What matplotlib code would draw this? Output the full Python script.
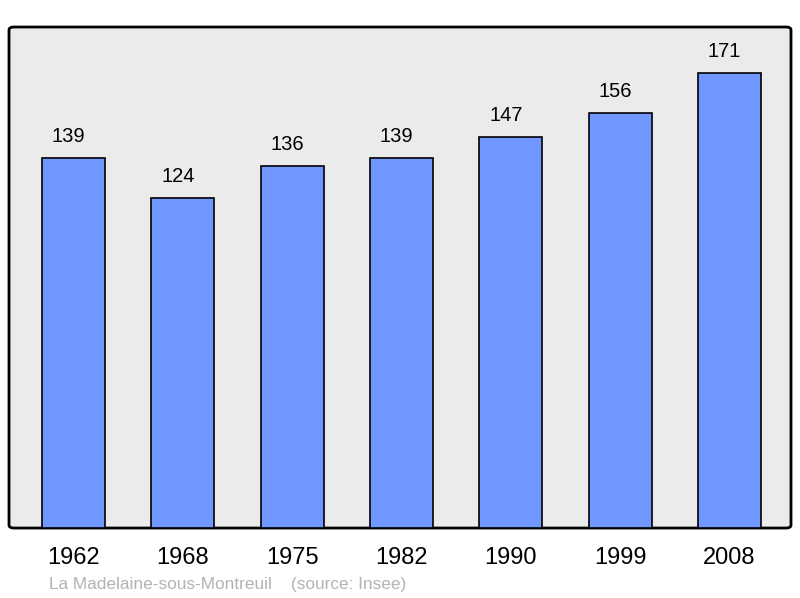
import matplotlib.pyplot as plt
from matplotlib.patches import FancyBboxPatch

plt.rcParams['font.family'] = ['Liberation Sans', 'DejaVu Sans']

years = ['1962', '1968', '1975', '1982', '1990', '1999', '2008']
population = [139, 124, 136, 139, 147, 156, 171]

fig = plt.figure(figsize=(8, 5.98), dpi=100)
ax = fig.add_axes([0.01125, 0.117, 0.9775, 0.8378])
ax.set_facecolor('none')

# rounded grey frame behind the bars
frame = FancyBboxPatch((0, 0), 1, 1, boxstyle='round,pad=0,rounding_size=0.006',
                       transform=ax.transAxes, facecolor='#ebebeb',
                       edgecolor='black', linewidth=2, zorder=0, clip_on=False)
ax.add_patch(frame)

pos = list(range(len(years)))
ax.bar(pos, population, width=0.576, color='#7096ff', edgecolor='black',
       linewidth=1.2, zorder=2)

for x, v in zip(pos, population):
    ax.annotate(str(v), (x, v), xytext=(-3.5, 15.3), textcoords='offset points',
                ha='center', va='center', fontsize=14.5)

ax.set_xlim(-0.59, 6.563)
ax.set_ylim(0, 188.3)
ax.set_xticks(pos)
ax.set_xticklabels(years, fontsize=17)
ax.tick_params(axis='x', length=0, pad=14)
ax.set_yticks([])
for s in ax.spines.values():
    s.set_visible(False)

fig.text(49 / 800, 1 - 584 / 598, 'La Madelaine-sous-Montreuil    (source: Insee)',
         fontsize=12.4, color='#b3b3b3', ha='left', va='center')

fig.savefig('out.png', dpi=100)
